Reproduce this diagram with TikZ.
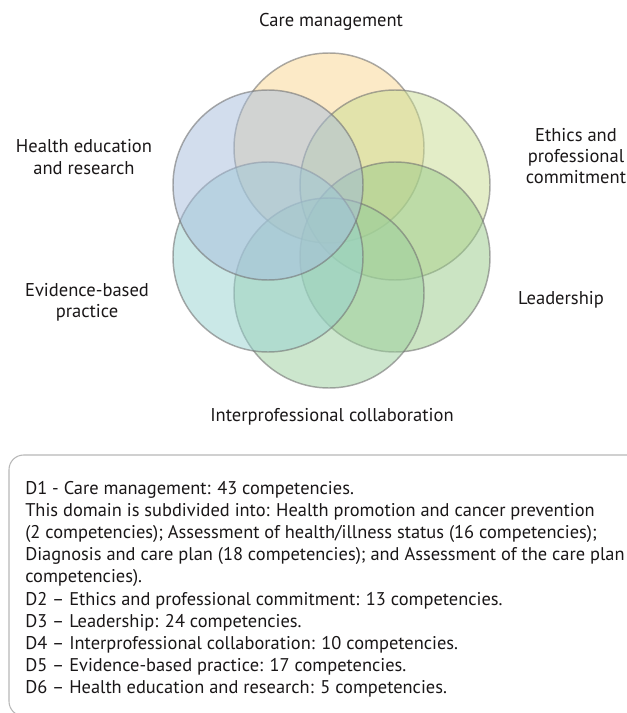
\documentclass[tikz,border=0pt]{standalone}
\usepackage{fontspec}
\setmainfont{PT Sans}
\definecolor{cTop}{HTML}{FBD791}
\definecolor{cUL}{HTML}{A7BDDD}
\definecolor{cUR}{HTML}{C9DD91}
\definecolor{cLL}{HTML}{97D3D1}
\definecolor{cLR}{HTML}{99CB89}
\definecolor{cBot}{HTML}{9BCF9D}
\definecolor{ink}{HTML}{1A1718}
\begin{document}
\begin{tikzpicture}[x=0.75pt,y=-0.75pt,
  venn/.style={circle, inner sep=0pt, minimum size=142.5pt,
    draw=black!55, draw opacity=0.6, line width=1.1pt, fill opacity=0.5},
  lbl/.style={align=center, font=\fontsize{13.9pt}{16pt}\selectfont, text=ink},
  legendframe/.style={draw=black!28, line width=0.8pt, rounded corners=11pt},
  ]
\useasboundingbox (0,0) rectangle (627,713);
\clip (0,0) rectangle (627,713);
\fill[white] (0,0) rectangle (627,713);

% six overlapping domains arranged on a hexagon
\node[venn, fill=cTop] (d1) at (329,148) {};
\node[venn, fill=cUR]  (d2) at (395,185) {};
\node[venn, fill=cLR]  (d3) at (395,257) {};
\node[venn, fill=cBot] (d4) at (329,293) {};
\node[venn, fill=cLL]  (d5) at (268,257) {};
\node[venn, fill=cUL]  (d6) at (268,185) {};

% domain names
\node[lbl] (t1) at (331,22)  {Care management};
\node[lbl] (t2) at (576,156) {Ethics and\\professional\\commitment};
\node[lbl] (t3) at (561,300) {Leadership};
\node[lbl] (t4) at (332,417) {Interprofessional collaboration};
\node[lbl] (t5) at (87,302)  {Evidence-based\\practice};
\node[lbl] (t6) at (84,157)  {Health education\\and research};

% legend box
\draw[legendframe] (9,455) rectangle (690,716);
\node[anchor=north west, align=left, inner sep=0pt, text=ink,
  font=\fontsize{13.8pt}{16.6pt}\selectfont] (legend) at (25,481) {%
D1 - Care management: 43 competencies.\\
This domain is subdivided into: Health promotion and cancer prevention\\
(2 competencies); Assessment of health/illness status (16 competencies);\\
Diagnosis and care plan (18 competencies); and Assessment of the care plan (2\\
competencies).\\
D2 – Ethics and professional commitment: 13 competencies.\\
D3 – Leadership: 24 competencies.\\
D4 – Interprofessional collaboration: 10 competencies.\\
D5 – Evidence-based practice: 17 competencies.\\
D6 – Health education and research: 5 competencies.};
\end{tikzpicture}
\end{document}
